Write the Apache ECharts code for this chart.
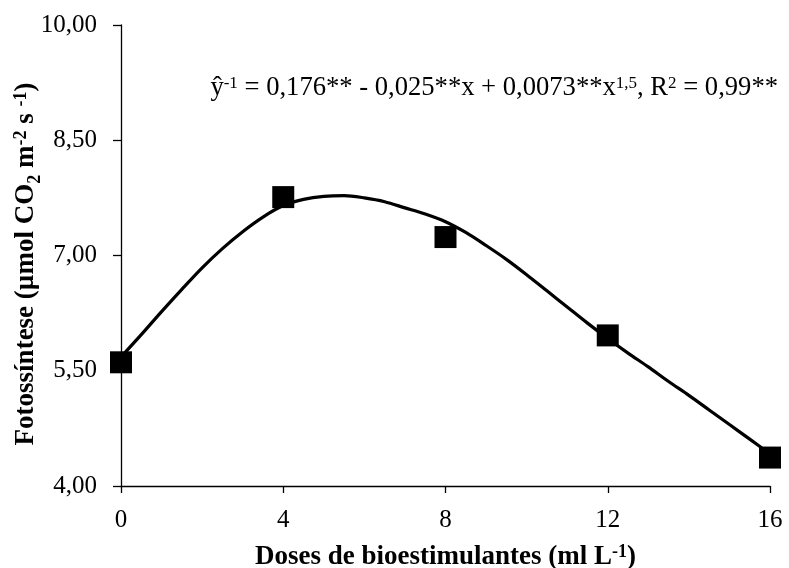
<!DOCTYPE html>
<html>
<head>
<meta charset="utf-8">
<script src="https://cdn.jsdelivr.net/npm/echarts@6/dist/echarts.min.js"></script>
<style>
  html, body { margin: 0; padding: 0; background: #fff; }
  #chart { width: 789px; height: 568px; }
</style>
</head>
<body>
<div id="chart"></div>
<script>
// Observed photosynthesis per bio-stimulant dose
const doses = [0, 4, 8, 12, 16];
const photosynthesis = [5.61, 7.76, 7.24, 5.96, 4.37];

// Fitted regression curve, sampled every half unit of dose
const curveX = [0, 0.5, 1, 1.5, 2, 2.5, 3, 3.5, 4, 4.5, 5, 5.5, 6, 6.5, 7, 7.5, 8,
                8.5, 9, 9.5, 10, 10.5, 11, 11.5, 12, 12.5, 13, 13.5, 14, 14.5, 15, 15.5, 16];
const curveY = [5.68, 5.97, 6.27, 6.56, 6.84, 7.09, 7.31, 7.50, 7.65, 7.73, 7.77, 7.78, 7.75, 7.70, 7.62, 7.54, 7.44,
                7.30, 7.13, 6.95, 6.75, 6.54, 6.33, 6.12, 5.92, 5.73, 5.55, 5.36, 5.18, 4.99, 4.80, 4.61, 4.42];

// Axis tick labels
const xTicks = [0, 4, 8, 12, 16];
const yTicks = ['4,00', '5,50', '7,00', '8,50', '10,00'];

const FONT = 'Liberation Serif';

const chart = echarts.init(document.getElementById('chart'), null, { renderer: 'canvas' });

const richBase = {
  b: { fontFamily: FONT, fontWeight: 'bold', fontSize: 27, color: '#000', lineHeight: 30, verticalAlign: 'bottom' },
  sup: { fontFamily: FONT, fontWeight: 'bold', fontSize: 18, color: '#000', lineHeight: 30, verticalAlign: 'bottom', padding: [0, 0, 10, 0] },
  sub: { fontFamily: FONT, fontWeight: 'bold', fontSize: 18, color: '#000', lineHeight: 30, verticalAlign: 'bottom', padding: [0, 0, -4, 0] }
};

const richEq = {
  n: { fontFamily: FONT, fontSize: 26.6, color: '#000', lineHeight: 30, verticalAlign: 'bottom' },
  sup: { fontFamily: FONT, fontSize: 17, color: '#000', lineHeight: 30, verticalAlign: 'bottom', padding: [0, 0, 10, 0] }
};

chart.setOption({
  animation: false,
  backgroundColor: '#fff',
  grid: { left: 121, right: 19, top: 25, bottom: 82, containLabel: false, outerBoundsMode: 'none' },
  xAxis: {
    type: 'value',
    min: xTicks[0],
    max: xTicks[xTicks.length - 1],
    interval: 4,
    name: '{b|Doses de bioestimulantes (ml L}{sup|-1}{b|)}',
    nameLocation: 'middle',
    nameGap: 55,
    nameMoveOverlap: false,
    nameTextStyle: { rich: richBase },
    axisLine: { onZero: false, lineStyle: { color: '#000', width: 1.3 } },
    axisTick: { inside: false, length: 7, lineStyle: { color: '#000', width: 1.3 } },
    axisLabel: { margin: 22, fontFamily: FONT, fontSize: 25, color: '#000' },
    splitLine: { show: false }
  },
  yAxis: {
    type: 'value',
    min: 4,
    max: 10,
    interval: 1.5,
    name: '{b|Fotossíntese (µmol CO}{sub|2}{b| m}{sup|-2}{b| s }{sup|-1}{b|)}',
    nameLocation: 'middle',
    nameGap: 81,
    nameRotate: 90,
    nameMoveOverlap: false,
    nameTextStyle: { rich: richBase, padding: [0, 17, 0, 0] },
    axisLine: { lineStyle: { color: '#000', width: 1.3 } },
    axisTick: { inside: false, length: 8, lineStyle: { color: '#000', width: 1.3 } },
    axisLabel: {
      margin: 24,
      fontFamily: FONT, fontSize: 25, color: '#000',
      formatter: function (v) {
        const i = Math.round((v - 4) / 1.5);
        return yTicks[i] !== undefined ? yTicks[i] : '';
      }
    },
    splitLine: { show: false }
  },
  graphic: [{
    type: 'text',
    right: 11,
    top: 75,
    style: {
      text: '{n|ŷ}{sup|-1}{n| = 0,176** - 0,025**x + 0,0073**x}{sup|1,5}{n|, R}{sup|2}{n| = 0,99**}',
      rich: richEq
    }
  }],
  series: [
    {
      type: 'line',
      data: curveX.map((x, i) => [x, curveY[i]]),
      smooth: 0.3,
      showSymbol: false,
      lineStyle: { color: '#000', width: 3.2 },
      z: 2
    },
    {
      type: 'scatter',
      data: doses.map((x, i) => [x, photosynthesis[i]]),
      symbol: 'rect',
      symbolSize: 22,
      itemStyle: { color: '#000', opacity: 1 },
      z: 3
    }
  ]
});
</script>
</body>
</html>
